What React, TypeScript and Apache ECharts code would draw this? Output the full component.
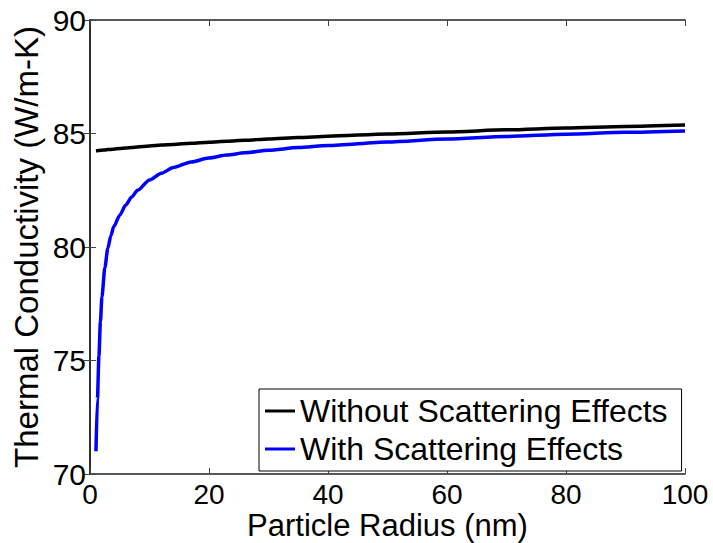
import React, { useEffect, useRef } from "react";
import * as echarts from "echarts";

const radius = [1, 1.25, 1.5, 1.75, 2, 2.5, 3, 3.5, 4, 5, 6, 7, 8, 10, 12, 14, 17, 20, 23, 26, 30, 35, 40, 50, 60, 70, 80, 90, 100];
const withoutScattering = [84.24, 84.245, 84.25, 84.26, 84.265, 84.275, 84.29, 84.3, 84.31, 84.34, 84.36, 84.385, 84.41, 84.45, 84.49, 84.52, 84.57, 84.62, 84.66, 84.7, 84.76, 84.82, 84.88, 84.98, 85.07, 85.16, 85.24, 85.31, 85.37];
const withScattering = [71.0, 73.3, 75.2, 76.7, 77.8, 79.1, 79.95, 80.5, 80.9, 81.4, 81.85, 82.2, 82.5, 82.95, 83.25, 83.5, 83.75, 83.92, 84.05, 84.15, 84.26, 84.38, 84.47, 84.63, 84.76, 84.87, 84.97, 85.05, 85.11];
const xTicks = [0, 20, 40, 60, 80, 100];
const yTicks = [70, 75, 80, 85, 90];
const seriesNames = ["Without Scattering Effects", "With Scattering Effects"];

export default function App() {
  const ref = useRef<HTMLDivElement>(null);
  useEffect(() => {
    document.body.style.margin = "0";
    const chart = echarts.init(ref.current!, null, { renderer: "svg" });
    const font = "'Liberation Sans', Arial, sans-serif";
    const axisLine = { show: true, lineStyle: { color: "#222", width: 1.5 } };
    const tick = { show: true, inside: true, length: 6, lineStyle: { color: "#444", width: 1 } };
    chart.setOption({
      animation: false,
      backgroundColor: "#fff",
      grid: { left: 90, top: 20, right: 28, bottom: 69, containLabel: false, outerBoundsMode: "none" },
      legend: {
        orient: "vertical",
        left: 259,
        top: 389,
        padding: [6, 14, 6, 6],
        itemGap: 6,
        itemWidth: 30,
        itemHeight: 3,
        icon: "rect",
        borderColor: "#000",
        borderWidth: 1,
        backgroundColor: "#fff",
        textStyle: { fontFamily: font, fontSize: 32, color: "#000" },
        data: seriesNames,
      },
      xAxis: [
        {
          type: "value",
          min: 0,
          max: 100,
          interval: 20,
          position: "bottom",
          name: "Particle Radius (nm)",
          nameLocation: "middle",
          nameGap: 36,
          nameMoveOverlap: false,
          nameTextStyle: { fontFamily: font, fontSize: 31, color: "#000" },
          axisLine,
          axisTick: tick,
          splitLine: { show: false },
          axisLabel: {
            fontFamily: font,
            fontSize: 28,
            color: "#000",
            margin: 6,
            formatter: (v: number) => (xTicks.includes(v) ? String(v) : ""),
          },
        },
        {
          type: "value",
          min: 0,
          max: 100,
          interval: 20,
          position: "top",
          axisLine,
          axisTick: tick,
          axisLabel: { show: false },
          splitLine: { show: false },
        },
      ],
      yAxis: [
        {
          type: "value",
          min: 70,
          max: 90,
          interval: 5,
          position: "left",
          name: "Thermal Conductivity (W/m-K)",
          nameLocation: "middle",
          nameGap: 47,
          nameMoveOverlap: false,
          nameTextStyle: { fontFamily: font, fontSize: 33, color: "#000" },
          axisLine,
          axisTick: tick,
          splitLine: { show: false },
          axisLabel: {
            fontFamily: font,
            fontSize: 30,
            color: "#000",
            margin: 4,
            formatter: (v: number) => (yTicks.includes(v) ? String(v) : ""),
          },
        },
        {
          type: "value",
          min: 70,
          max: 90,
          interval: 5,
          position: "right",
          axisLine,
          axisTick: tick,
          axisLabel: { show: false },
          splitLine: { show: false },
        },
      ],
      series: [
        {
          name: seriesNames[0],
          type: "line",
          xAxisIndex: 0,
          yAxisIndex: 0,
          data: radius.map((r, i) => [r, withoutScattering[i]]),
          symbol: "none",
          smooth: 0.25,
          smoothMonotone: "x",
          lineStyle: { color: "#000", width: 3.5 },
          itemStyle: { color: "#000" },
        },
        {
          name: seriesNames[1],
          type: "line",
          xAxisIndex: 0,
          yAxisIndex: 0,
          data: radius.map((r, i) => [r, withScattering[i]]),
          symbol: "none",
          smooth: 0.25,
          smoothMonotone: "x",
          lineStyle: { color: "#0000ff", width: 3.5 },
          itemStyle: { color: "#0000ff" },
        },
      ],
    });
    return () => chart.dispose();
  }, []);
  return <div ref={ref} style={{ width: 713, height: 543 }} />;
}
